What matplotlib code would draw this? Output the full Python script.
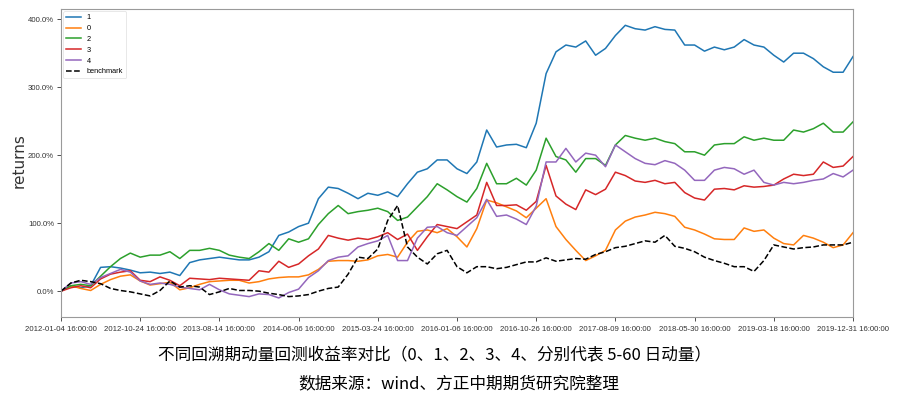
import numpy as np
import matplotlib
matplotlib.use("Agg")
import matplotlib.pyplot as plt
from matplotlib.ticker import FuncFormatter

# cumulative returns (%), 81 evenly spaced samples 2012-01-04 .. 2019-12-31
tick_labels = ["2012-01-04 16:00:00", "2012-10-24 16:00:00", "2013-08-14 16:00:00",
               "2014-06-06 16:00:00", "2015-03-24 16:00:00", "2016-01-06 16:00:00",
               "2016-10-26 16:00:00", "2017-08-09 16:00:00", "2018-05-30 16:00:00",
               "2019-03-18 16:00:00", "2019-12-31 16:00:00"]

s1 = [0, 8, 5, 8, 35, 36, 34, 31, 27, 28, 26, 28, 23, 42, 46, 48, 50, 48, 46, 46,
      50, 58, 82, 87, 95, 100, 136, 153, 151, 144, 136, 144, 141, 146, 139, 158, 175, 180, 193, 193,
      180, 173, 190, 237, 212, 215, 216, 211, 247, 320, 352, 362, 359, 368, 347, 357, 376, 391, 386, 384,
      389, 385, 384, 362, 362, 353, 359, 355, 359, 370, 362, 359, 347, 337, 350, 350, 342, 330, 322, 322,
      345]
s0 = [0, 8, 4, 1, 10, 17, 22, 24, 15, 9, 11, 13, 2, 5, 10, 14, 15, 16, 16, 12,
      14, 18, 20, 21, 21, 24, 32, 44, 45, 45, 44, 46, 52, 54, 50, 72, 88, 90, 86, 92,
      80, 65, 92, 134, 130, 124, 118, 108, 122, 136, 95, 76, 60, 45, 52, 60, 90, 103, 109, 112,
      116, 114, 110, 94, 90, 84, 77, 76, 76, 93, 88, 90, 78, 70, 68, 82, 78, 72, 64, 68,
      86]
s2 = [0, 8, 10, 8, 22, 36, 48, 56, 50, 53, 53, 58, 48, 60, 60, 63, 60, 53, 50, 48,
      58, 70, 60, 77, 72, 77, 98, 114, 126, 114, 117, 119, 122, 117, 104, 109, 124, 139, 158, 149,
      139, 131, 151, 188, 158, 158, 166, 156, 178, 225, 198, 193, 175, 195, 195, 185, 215, 229, 225, 222,
      225, 220, 217, 205, 205, 200, 215, 217, 217, 227, 222, 225, 222, 222, 237, 234, 239, 247, 234, 234,
      249]
s3 = [0, 5, 8, 5, 18, 25, 28, 30, 16, 14, 21, 16, 8, 19, 18, 17, 19, 18, 17, 16,
      30, 28, 44, 35, 40, 52, 62, 82, 78, 75, 78, 76, 80, 86, 76, 84, 60, 80, 98, 95,
      92, 102, 112, 160, 126, 126, 127, 119, 132, 185, 140, 128, 120, 149, 142, 150, 175, 170, 162, 160,
      163, 158, 160, 145, 137, 134, 150, 151, 149, 155, 153, 154, 156, 165, 172, 170, 172, 190, 182, 184,
      198]
s4 = [0, 12, 14, 10, 20, 26, 32, 28, 15, 10, 12, 10, 6, 4, 2, 10, 2, -4, -6, -8,
      -4, -5, -10, -2, 3, 20, 30, 45, 50, 52, 65, 70, 74, 82, 45, 45, 78, 94, 95, 86,
      82, 95, 108, 135, 110, 112, 106, 98, 125, 190, 190, 210, 190, 203, 200, 183, 215, 205, 195, 188,
      186, 192, 188, 178, 163, 163, 178, 182, 180, 172, 178, 160, 156, 160, 158, 160, 163, 165, 173, 168,
      178]
bench = [0, 12, 16, 14, 11, 4, 1, -1, -4, -7, 1, 15, 6, 8, 6, -5, -1, 4, 1, 1,
         0, -3, -5, -8, -7, -5, 0, 4, 6, 25, 50, 48, 62, 104, 126, 65, 50, 40, 55, 60,
         36, 27, 36, 36, 33, 35, 39, 43, 43, 49, 44, 46, 48, 47, 54, 58, 64, 66, 70, 74,
         72, 82, 66, 63, 58, 50, 45, 41, 36, 36, 29, 45, 68, 65, 62, 64, 65, 68, 68, 68,
         72]

series = [("1", s1, "#1f77b4"), ("0", s0, "#ff7f0e"), ("2", s2, "#2ca02c"),
          ("3", s3, "#d62728"), ("4", s4, "#9467bd")]

x = np.arange(len(s1))

fig = plt.figure(figsize=(8.97, 3.99), dpi=100)
ax = fig.add_axes([61/897, 1-317/399, 792/897, 308/399])

for name, vals, c in series:
    ax.plot(x, np.array(vals)/100, color=c, lw=1.1, label=name)
ax.plot(x, np.array(bench)/100, color="black", lw=1.1, ls="--", label="benchmark")

ax.set_xlim(0, len(s1)-1)
ax.set_ylim(-0.38, 4.15)
ax.set_yticks([0, 1, 2, 3, 4])
ax.yaxis.set_major_formatter(FuncFormatter(lambda v, p: "%.1f%%" % (v*100)))
ax.set_xticks(np.arange(0, len(s1), 8))
ax.set_xticklabels(tick_labels)
ax.tick_params(labelsize=5.6, colors="#333333", length=3, width=0.6)
for lab in ax.get_xticklabels() + ax.get_yticklabels():
    lab.set_family("Liberation Sans")
ax.tick_params(axis="y", pad=2)
for sp in ax.spines.values():
    sp.set_color("#9a9a9a")
ax.set_ylabel("returns", fontsize=11, color="#333333")
ax.yaxis.set_label_coords(-0.043, 0.508)

leg = ax.legend(loc="upper left", frameon=True, borderaxespad=0.3,
                handlelength=2.0, labelspacing=0.5,
                prop={"family": "Liberation Sans", "size": 5.3})
leg.get_frame().set_edgecolor("#dddddd")
leg.get_frame().set_linewidth(0.6)

cjk = ["Noto Sans CJK SC", "DejaVu Sans"]
fig.text(435/897, 1-356/399, "不同回溯期动量回测收益率对比（0、1、2、3、4、分别代表 5-60 日动量）",
         ha="center", va="center", fontsize=12, family=cjk)
fig.text(459/897, 1-384/399, "数据来源：wind、方正中期期货研究院整理",
         ha="center", va="center", fontsize=12, family=cjk)

fig.savefig("out.png", dpi=100)
